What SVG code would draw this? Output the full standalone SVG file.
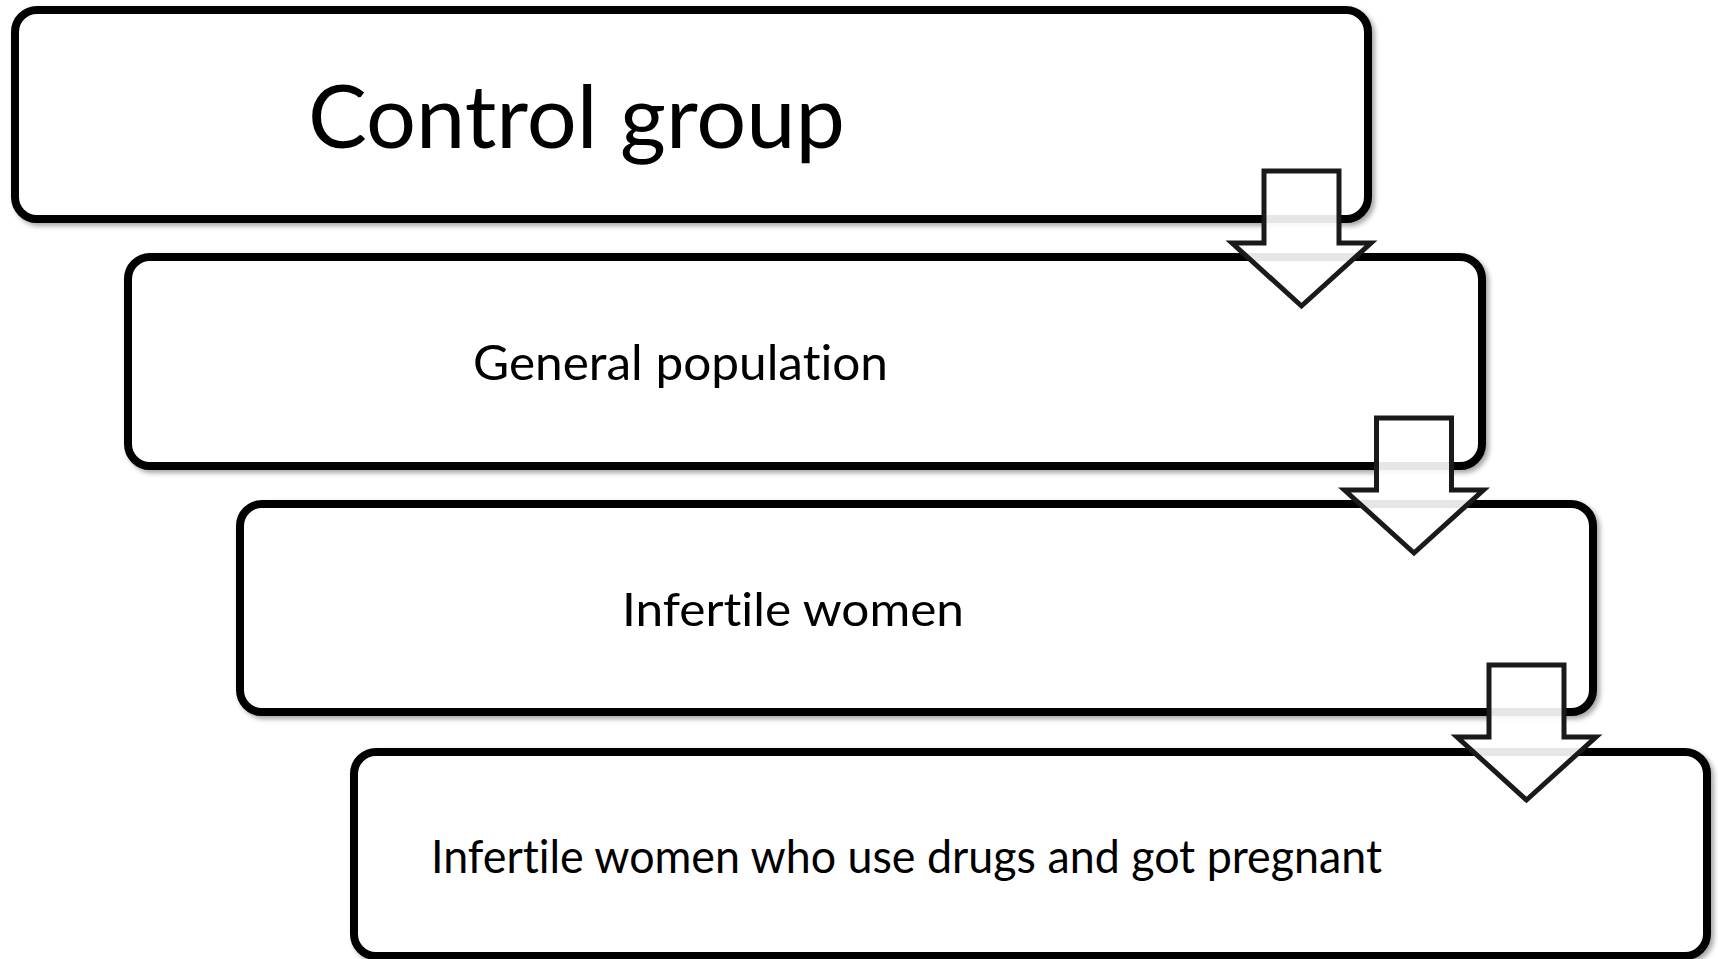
<svg xmlns="http://www.w3.org/2000/svg" width="1718" height="959" viewBox="0 0 1718 959">
<defs>
<filter id="sh" x="-5%" y="-10%" width="110%" height="125%">
<feDropShadow dx="3" dy="3" stdDeviation="2.5" flood-color="#000" flood-opacity="0.35"/>
</filter>
<style>
.box{fill:#fff;stroke:#000;stroke-width:8;filter:url(#sh)}
.arr{fill:#fff;fill-opacity:0.9;stroke:#1a1a1a;stroke-width:5;stroke-linejoin:miter}
.t{font-family:Lato,"Open Sans","Liberation Sans",sans-serif;fill:#000;font-variant-ligatures:none;font-feature-settings:"liga" 0,"clig" 0}
</style>
</defs>
<rect width="1718" height="959" fill="#fff"/>
<g id="node1">
<rect class="box" x="15" y="10" width="1353" height="209" rx="22"/>
<text class="t" x="308" y="148" font-size="87" textLength="537" lengthAdjust="spacingAndGlyphs">Control group</text>
</g>
<g id="node2">
<rect class="box" x="128" y="257" width="1354" height="209" rx="22"/>
<text class="t" x="473" y="380" font-size="48" textLength="415" lengthAdjust="spacingAndGlyphs">General population</text>
</g>
<g id="node3">
<rect class="box" x="240" y="504" width="1353" height="208" rx="22"/>
<text class="t" x="622" y="626" font-size="47" textLength="342" lengthAdjust="spacingAndGlyphs">Infertile women</text>
</g>
<g id="node4">
<rect class="box" x="354" y="752" width="1353" height="204" rx="22"/>
<text class="t" x="431" y="873" font-size="47" textLength="951" lengthAdjust="spacingAndGlyphs">Infertile women who use drugs and got pregnant</text>
</g>
<g id="connectors">
<polygon class="arr" points="1264,171 1339,171 1339,243 1371,243 1301.5,306 1232,243 1264,243"/>
<polygon class="arr" points="1376.5,418 1451.5,418 1451.5,490 1483.5,490 1414,553 1344.5,490 1376.5,490"/>
<polygon class="arr" points="1489,665 1564,665 1564,737 1596,737 1526.5,800 1457,737 1489,737"/>
</g>
</svg>
